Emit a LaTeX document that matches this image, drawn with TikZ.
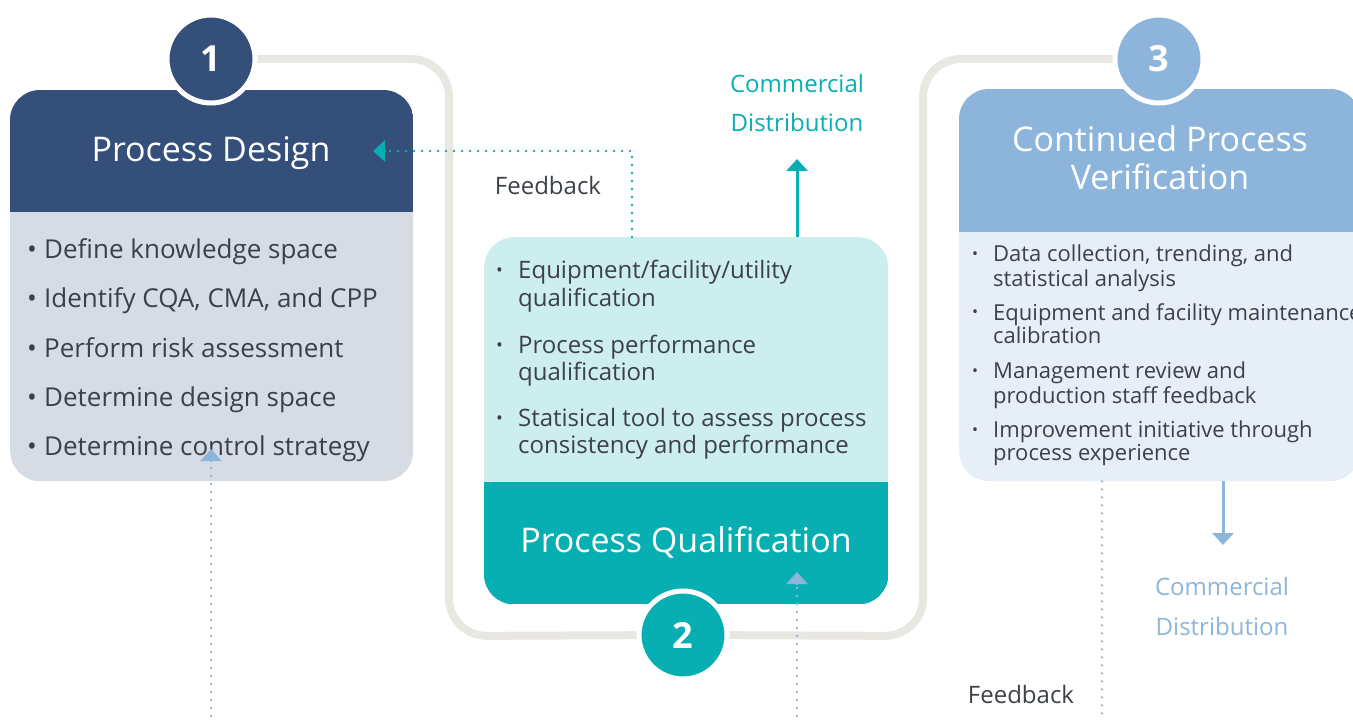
\documentclass[tikz,border=0pt]{standalone}
\usepackage{fontspec}
\setmainfont{Open Sans}
\usetikzlibrary{arrows.meta,calc}

\definecolor{pdnavy}{HTML}{34507A}
\definecolor{pdbody}{HTML}{D6DBE4}
\definecolor{pqteal}{HTML}{08AFB2}
\definecolor{pqbody}{HTML}{CDEEEE}
\definecolor{cpvblue}{HTML}{8DB5DC}
\definecolor{cpvbody}{HTML}{E6EEF7}
\definecolor{loopgray}{HTML}{E8E7E2}
\definecolor{ink}{HTML}{3C4149}

\begin{document}
\begin{tikzpicture}[x=1pt,y=-1pt,
  panel/.style={rectangle, rounded corners=30pt, inner sep=0pt, anchor=north west},
  stage/.style={circle, draw=white, line width=5pt, minimum size=88pt, inner sep=0pt,
                text=white, font=\fontsize{36}{40}\selectfont\bfseries},
  title/.style={text=white, anchor=base, inner sep=0pt, font=\fontsize{34}{40}\selectfont},
  itemA/.style={text=ink, anchor=base west, inner sep=0pt, font=\fontsize{26}{30}\selectfont},
  itemB/.style={text=ink, anchor=base west, inner sep=0pt, font=\fontsize{24}{28}\selectfont},
  itemC/.style={text=ink, anchor=base west, inner sep=0pt, font=\fontsize{22}{26}\selectfont},
  label/.style={anchor=base, inner sep=0pt, font=\fontsize{24}{28}\selectfont},
  dotline/.style={line width=2.6pt, dash pattern=on 0pt off 8pt, line cap=round},
  tip/.style={-{Triangle[width=21pt,length=12pt]}}
]
\useasboundingbox (0,0) rectangle (1353,722);
\clip (0,0) rectangle (1353,722);

% ---------- stage 1: process design ----------
\node[panel, fill=pdbody, minimum width=403pt, minimum height=391pt] (pd) at (10,90) {};
\begin{scope}
  \clip[rounded corners=30pt] (pd.south west) rectangle (pd.north east);
  \fill[pdnavy] (pd.north west) rectangle (413,212);
\end{scope}
\node[title] (pdtitle) at (211,162) {Process Design};
\foreach \t [count=\i] in {{Define knowledge space}, {Identify CQA, CMA, and CPP},
    {Perform risk assessment}, {Determine design space}, {Determine control strategy}} {
  \pgfmathsetmacro{\yy}{259+49*(\i-1)}
  \node[itemA] (pdb\i) at (27,\yy) {•};
  \node[itemA] (pdi\i) at (44,\yy) {\t};
}

% ---------- stage 2: process qualification ----------
\node[panel, fill=pqbody, minimum width=404pt, minimum height=367pt] (pq) at (484,237) {};
\begin{scope}
  \clip[rounded corners=30pt] (pq.south west) rectangle (pq.north east);
  \fill[pqteal] (pq.south west) rectangle (888,482);
\end{scope}
\node[title] (pqtitle) at (686,552) {Process Qualification};
\foreach \yy/\t [count=\i] in {279/{Equipment/facility/utility}, 306/{qualification},
    353/{Process performance}, 380/{qualification},
    426/{Statisical tool to assess process}, 453/{consistency and performance}} {
  \node[itemB] (pqi\i) at (518,\yy) {\t};
}
\foreach \yy [count=\i] in {279,353,426} {
  \node[itemB, font=\fontsize{18}{20}\selectfont] (pqb\i) at (496,\yy-2) {•};
}

% ---------- stage 3: continued process verification ----------
\node[panel, fill=cpvbody, minimum width=401pt, minimum height=392pt] (cpv) at (959,89) {};
\begin{scope}
  \clip[rounded corners=30pt] (cpv.south west) rectangle (cpv.north east);
  \fill[cpvblue] (cpv.north west) rectangle (1360,232);
\end{scope}
\node[title] (cpvt1) at (1160,152) {Continued Process};
\node[title] (cpvt2) at (1160,190) {Verification};
\foreach \yy/\t [count=\i] in {262/{Data collection, trending, and}, 287/{statistical analysis},
    320/{Equipment and facility maintenance}, 344/{calibration},
    378/{Management review and}, 403/{production staff feedback},
    437/{Improvement initiative through}, 460/{process experience}} {
  \node[itemC] (cpvi\i) at (993,\yy) {\t};
}
\foreach \yy [count=\i] in {262,320,378,437} {
  \node[itemC, font=\fontsize{16}{18}\selectfont] (cpvb\i) at (972,\yy-2) {•};
}

% ---------- numbered stage markers ----------
\node[stage, fill=pdnavy] (n1) at (211,59) {1};
\node[stage, fill=pqteal] (n2) at (683,635) {2};
\node[stage, fill=cpvblue] (n3) at (1159,59) {3};

% ---------- lifecycle loop ----------
\draw[loopgray, line width=8pt, rounded corners=38pt]
  (n1) -- (449,59) -- (449,636) -- (n2);
\draw[loopgray, line width=8pt, rounded corners=38pt]
  (n2) -- (923,636) -- (923,59) -- (n3);

% ---------- feedback and distribution from stage 2 ----------
\coordinate (fbTurn) at (632,151);
\coordinate (fbTip) at (373,151);
\coordinate (fbBase) at (386,151);
\draw[pqteal, dotline] (pq.north -| fbTurn) -- (fbTurn) -- (fbBase);
\draw[pqteal, tip, line width=2.6pt] (fbBase) -- (fbTip);
\node[label, text=ink] (fbA) at (548,195) {Feedback};

\coordinate (cdA) at (797,159);
\draw[pqteal, line width=3pt, tip] (pq.north -| cdA) -- (cdA);
\node[label, text=pqteal] (cdA1) at (797,93) {Commercial};
\node[label, text=pqteal] (cdA2) at (797,132) {Distribution};

% ---------- feedback into stages 1 and 2 ----------
\coordinate (fb1Start) at (211,716);
\coordinate (fb1Base) at (211,462);
\coordinate (fb1Tip) at (211,449);
\draw[cpvblue, dotline] (fb1Start) -- (fb1Base);
\draw[cpvblue, tip, line width=2.6pt] (fb1Base) -- (fb1Tip);

\coordinate (fb2Start) at (797,716);
\coordinate (fb2Base) at (797,585);
\coordinate (fb2Tip) at (797,572);
\draw[cpvblue, dotline] (fb2Start) -- (fb2Base);
\draw[cpvblue, tip, line width=2.6pt] (fb2Base) -- (fb2Tip);

% ---------- feedback and distribution from stage 3 ----------
\coordinate (fb3End) at (1102,716);
\draw[cpvblue, dotline] (cpv.south -| fb3End) -- (fb3End);
\node[label, text=ink] (fbC) at (1021,703) {Feedback};

\coordinate (cdC) at (1223,545);
\draw[cpvblue, line width=3pt, tip] (cpv.south -| cdC) -- (cdC);
\node[label, text=cpvblue] (cdC1) at (1222,595) {Commercial};
\node[label, text=cpvblue] (cdC2) at (1222,635) {Distribution};
\end{tikzpicture}
\end{document}
